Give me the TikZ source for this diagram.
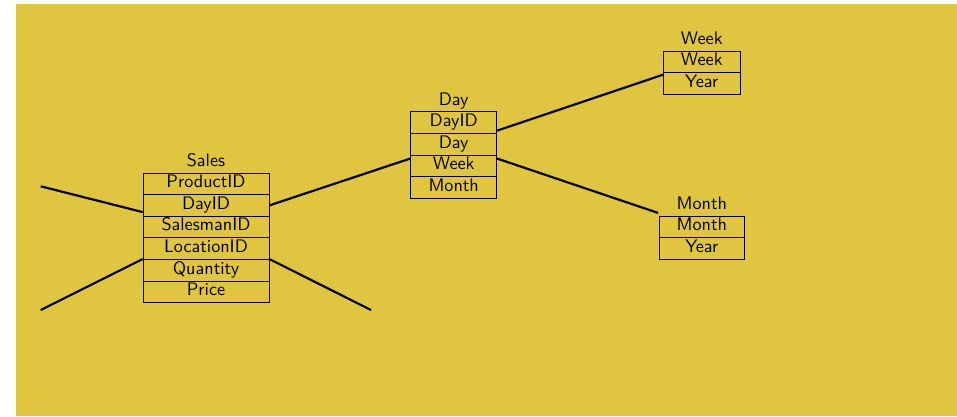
\documentclass[tikz,border=0pt]{standalone}
\usetikzlibrary{calc}
\definecolor{bgyellow}{RGB}{224,198,64}
\begin{document}
\begin{tikzpicture}[x=0.55pt,y=-0.55pt,
  row/.style={draw=black, line width=0.4pt, fill=bgyellow, inner sep=0pt,
    minimum height=11.88pt, text height=7pt, text depth=2.7pt, font=\sffamily},
  salesrow/.style={row, minimum width=69.3pt},
  dayrow/.style={row, minimum width=47.3pt},
  weekrow/.style={row, minimum width=42.35pt},
  monthrow/.style={row, minimum width=47.1pt},
  title/.style={anchor=base, inner sep=0pt, font=\sffamily},
  link/.style={draw=black, line width=1.2pt}]
\useasboundingbox (0,0) rectangle (957,416);
\fill[bgyellow] (15.5,4) rectangle (957,416);

% Sales table
\node[title] (salesT) at (206,166.7) {Sales};
\node[salesrow] (s1) at (206,183.8) {ProductID};
\node[salesrow] (s2) at (206,205.4) {DayID};
\node[salesrow] (s3) at (206,227.0) {SalesmanID};
\node[salesrow] (s4) at (206,248.6) {LocationID};
\node[salesrow] (s5) at (206,270.2) {Quantity};
\node[salesrow] (s6) at (206,291.8) {Price};

% Day table
\node[title] (dayT) at (453.7,105.2) {Day};
\node[dayrow] (d1) at (453.7,122.5) {DayID};
\node[dayrow] (d2) at (453.7,144.1) {Day};
\node[dayrow] (d3) at (453.7,165.7) {Week};
\node[dayrow] (d4) at (453.7,187.3) {Month};

% Week table
\node[title] (weekT) at (701.8,44.5) {Week};
\node[weekrow] (w1) at (701.8,61.8) {Week};
\node[weekrow] (w2) at (701.8,83.4) {Year};

% Month table
\node[title] (monthT) at (701.85,209.5) {Month};
\node[monthrow] (m1) at (701.85,226.8) {Month};
\node[monthrow] (m2) at (701.85,248.4) {Year};

% free ends
\coordinate (lu) at (40.7,186.3);
\coordinate (ll) at (40.7,310);
\coordinate (rl) at (371,310);

% connectors
\draw[link] (lu) -- ($(s2.south west)+(0,-4.5)$);
\draw[link] (ll) -- (s5.north west);
\draw[link] (s5.north east) -- (rl);
\draw[link] (s2.east) -- ($(d3.north west)+(0,4)$);
\draw[link] ($(d1.south east)+(0,-3)$) -- ($(w2.north west)+(0,2.5)$);
\draw[link] ($(d3.north east)+(0,4)$) -- ($(m1.north west)+(-0.5,-2.7)$);
\end{tikzpicture}
\end{document}
